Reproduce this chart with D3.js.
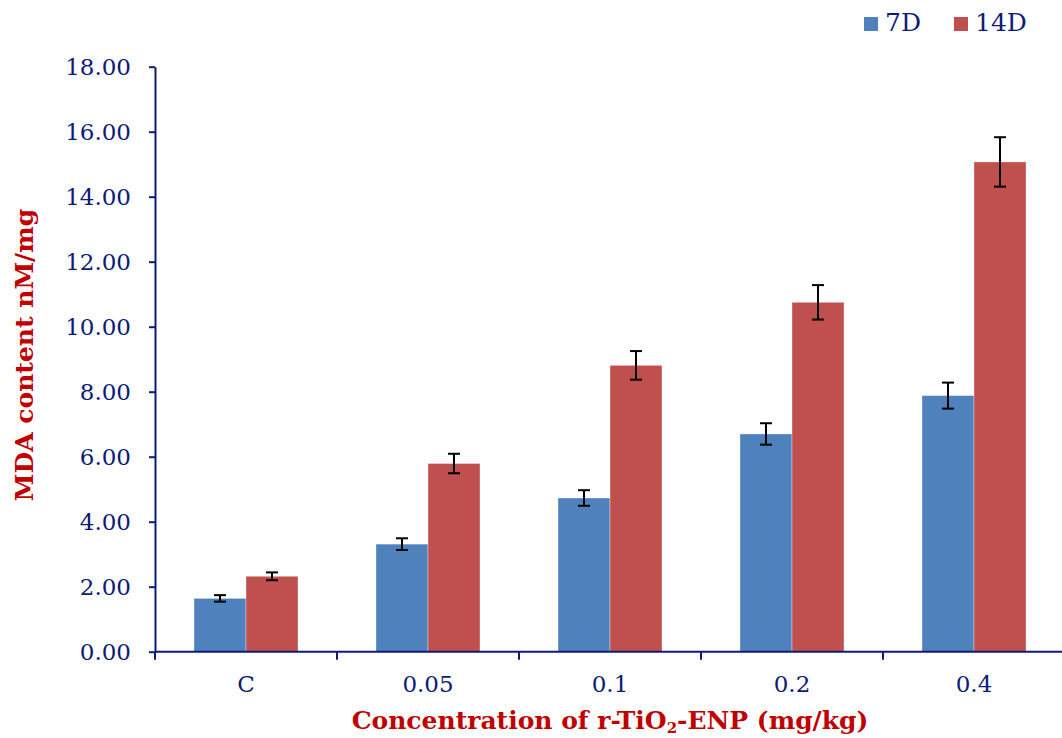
<!DOCTYPE html>
<html>
<head>
<meta charset="utf-8">
<script src="https://cdn.jsdelivr.net/npm/d3@7"></script>
<style>
  html, body { margin: 0; padding: 0; background: #fff; }
  svg { display: block; }
</style>
</head>
<body>
<svg id="chart" width="1062" height="738"></svg>
<script>
// MDA content by r-TiO2-ENP concentration, after 7 and 14 days
const categories = ["C", "0.05", "0.1", "0.2", "0.4"];
const seriesNames = ["7D", "14D"];
const values7D  = [1.64, 3.31, 4.73, 6.70, 7.88];
const values14D = [2.32, 5.79, 8.81, 10.75, 15.07];
const err7D  = [0.10, 0.18, 0.24, 0.33, 0.40];
const err14D = [0.12, 0.30, 0.44, 0.53, 0.76];
const yTicks = [0, 2, 4, 6, 8, 10, 12, 14, 16, 18];

const colors = { "7D": "#4F81BD", "14D": "#C0504D" };
const axisColor = "#0D1B78";
const titleColor = "#C00000";
const serif = "'DejaVu Serif', 'Liberation Serif', serif";

const rows = categories.map((c, i) => ({
  cat: c,
  bars: [
    { key: "7D", value: values7D[i], err: err7D[i] },
    { key: "14D", value: values14D[i], err: err14D[i] }
  ]
}));

const svg = d3.select("#chart");

const x0 = d3.scaleBand().domain(categories).range([155, 1065]).padding(0);
const x1 = d3.scaleBand().domain(seriesNames).range([0, x0.bandwidth()])
  .paddingInner(0).paddingOuter(0.75);
const y = d3.scaleLinear().domain([0, 18]).range([651.7, 66.7]);

// Bars
const groups = svg.append("g").selectAll("g")
  .data(rows).join("g")
  .attr("transform", d => `translate(${x0(d.cat)},0)`);

groups.selectAll("rect")
  .data(d => d.bars).join("rect")
  .attr("x", d => x1(d.key))
  .attr("y", d => y(d.value))
  .attr("width", x1.bandwidth())
  .attr("height", d => y(0) - y(d.value))
  .attr("fill", d => colors[d.key])
  .attr("stroke", "rgba(255,255,255,0.35)")
  .attr("stroke-width", 1);

// Error bars
const capHalf = 6;
const eb = groups.selectAll("g.err")
  .data(d => d.bars).join("g").attr("class", "err")
  .attr("stroke", "#000").attr("stroke-width", 2);
eb.append("line")
  .attr("x1", d => x1(d.key) + x1.bandwidth() / 2)
  .attr("x2", d => x1(d.key) + x1.bandwidth() / 2)
  .attr("y1", d => y(d.value + d.err))
  .attr("y2", d => y(d.value - d.err));
eb.append("line")
  .attr("x1", d => x1(d.key) + x1.bandwidth() / 2 - capHalf)
  .attr("x2", d => x1(d.key) + x1.bandwidth() / 2 + capHalf)
  .attr("y1", d => y(d.value + d.err))
  .attr("y2", d => y(d.value + d.err));
eb.append("line")
  .attr("x1", d => x1(d.key) + x1.bandwidth() / 2 - capHalf)
  .attr("x2", d => x1(d.key) + x1.bandwidth() / 2 + capHalf)
  .attr("y1", d => y(d.value - d.err))
  .attr("y2", d => y(d.value - d.err));

// Y axis
const yAxis = svg.append("g")
  .attr("transform", "translate(155,0)")
  .call(d3.axisLeft(y).tickValues(yTicks).tickFormat(d3.format(".2f"))
    .tickSize(6).tickSizeOuter(0).tickPadding(18));
yAxis.select(".domain").attr("stroke", axisColor).attr("stroke-width", 2);
yAxis.selectAll(".tick line").attr("stroke", axisColor).attr("stroke-width", 2);
yAxis.selectAll(".tick text")
  .attr("fill", axisColor)
  .style("font-family", serif)
  .style("font-size", "23px");

// X axis: baseline, boundary ticks, category labels
const xg = svg.append("g");
xg.append("line")
  .attr("x1", 155).attr("x2", 1062)
  .attr("y1", y(0)).attr("y2", y(0))
  .attr("stroke", axisColor).attr("stroke-width", 2);
const bounds = categories.map(c => x0(c)).concat([x0.range()[1]]);
xg.selectAll("line.b").data(bounds).join("line").attr("class", "b")
  .attr("x1", d => d).attr("x2", d => d)
  .attr("y1", y(0)).attr("y2", y(0) + 8)
  .attr("stroke", axisColor).attr("stroke-width", 2);
xg.selectAll("text").data(categories).join("text")
  .attr("x", d => x0(d) + x0.bandwidth() / 2)
  .attr("y", 692)
  .attr("text-anchor", "middle")
  .attr("fill", axisColor)
  .style("font-family", serif)
  .style("font-size", "23px")
  .text(d => d);

// Axis titles
svg.append("text")
  .attr("transform", "translate(33,355) rotate(-90)")
  .attr("text-anchor", "middle")
  .attr("fill", titleColor)
  .style("font-family", serif)
  .style("font-weight", "bold")
  .style("font-size", "25px")
  .text("MDA content nM/mg");

const xt = svg.append("text")
  .attr("x", 610).attr("y", 729)
  .attr("text-anchor", "middle")
  .attr("fill", titleColor)
  .style("font-family", serif)
  .style("font-weight", "bold")
  .style("font-size", "25px");
xt.append("tspan").text("Concentration of r-TiO");
xt.append("tspan").attr("dy", 4).style("font-size", "15px").text("2");
xt.append("tspan").attr("dy", -4).text("-ENP (mg/kg)");

// Legend
const legendX = [864, 954];
const lg = svg.append("g").selectAll("g").data(seriesNames).join("g")
  .attr("transform", (d, i) => `translate(${legendX[i]},17)`);
lg.append("rect").attr("width", 14).attr("height", 14).attr("fill", d => colors[d]);
lg.append("text")
  .attr("x", 21).attr("y", 14)
  .attr("fill", axisColor)
  .style("font-family", serif)
  .style("font-size", "25px")
  .text(d => d);
</script>
</body>
</html>
